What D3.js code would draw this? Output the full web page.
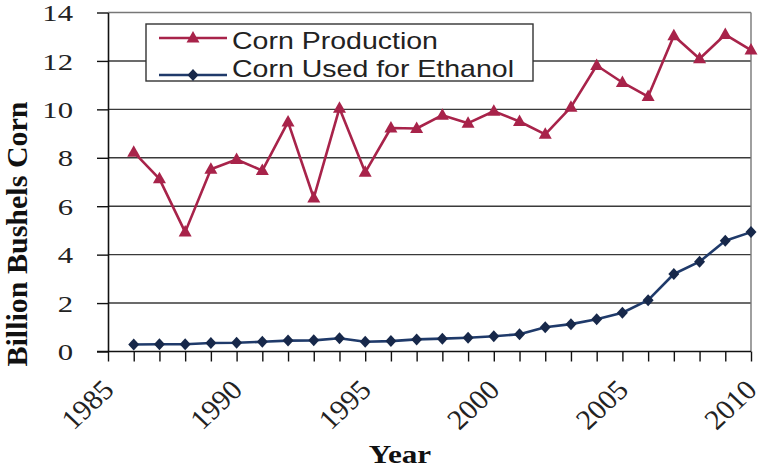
<!DOCTYPE html>
<html>
<head>
<meta charset="utf-8">
<script src="https://cdn.jsdelivr.net/npm/d3@7"></script>
<style>
  html, body { margin: 0; padding: 0; background: #fff; }
  svg { display: block; }
</style>
</head>
<body>
<svg id="chart" width="769" height="464"></svg>
<script>
// values (billion bushels)
const years = [1986,1987,1988,1989,1990,1991,1992,1993,1994,1995,1996,1997,1998,
               1999,2000,2001,2002,2003,2004,2005,2006,2007,2008,2009,2010];
const production = [8.23,7.13,4.93,7.53,7.93,7.47,9.48,6.34,10.05,7.40,9.23,9.21,9.76,
                    9.43,9.92,9.50,8.97,10.09,11.81,11.11,10.53,13.04,12.09,13.09,12.45];
const ethanol = [0.29,0.30,0.30,0.35,0.36,0.40,0.45,0.46,0.55,0.40,0.43,0.50,0.53,
                 0.57,0.63,0.71,1.00,1.13,1.33,1.60,2.12,3.20,3.71,4.57,4.93];
const yTicks = [0,2,4,6,8,10,12,14];
const xTicks = [1985,1986,1987,1988,1989,1990,1991,1992,1993,1994,1995,1996,1997,1998,
                1999,2000,2001,2002,2003,2004,2005,2006,2007,2008,2009,2010];
const xLabels = [1985,1990,1995,2000,2005,2010];
const seriesNames = ['Corn Production', 'Corn Used for Ethanol'];

const red = '#a8234a', navy = '#1f3a6a', navyDark = '#17284a';
const stretch = 1.28; // the picture is a bit wider than tall
const serif = '"Liberation Serif", "Times New Roman", serif';

const svg = d3.select('#chart');
const x = d3.scaleLinear().domain([1985, 2010]).range([108, 751]);
const y = d3.scaleLinear().domain([0, 14]).range([351.5, 12.5]);

// gridlines
svg.append('g').selectAll('line').data(yTicks.filter(d => d > 0)).join('line')
  .attr('x1', x(1985)).attr('x2', x(2010))
  .attr('y1', d => y(d)).attr('y2', d => y(d))
  .attr('stroke', d => d === 14 ? '#777' : '#3a3a3a').attr('stroke-width', 1.4);
// right border
svg.append('line').attr('x1', x(2010)).attr('x2', x(2010)).attr('y1', y(14)).attr('y2', y(0))
  .attr('stroke', '#777').attr('stroke-width', 1.4);

// y axis
const yAxis = svg.append('g').attr('transform', `translate(${x(1985)},0)`)
  .call(d3.axisLeft(y).tickValues(yTicks).tickSize(11).tickSizeOuter(0).tickPadding(0));
yAxis.attr('font-family', serif);
yAxis.select('.domain').attr('stroke', '#111').attr('stroke-width', 1.6);
yAxis.selectAll('.tick line').attr('stroke', '#111').attr('stroke-width', 1.4);
yAxis.selectAll('.tick text')
  .attr('x', 0).attr('dy', '0.34em')
  .attr('transform', `translate(-35,0) scale(${stretch},1)`)
  .style('font-family', serif).attr('font-size', 24).attr('fill', '#222');

// x axis
const xAxis = svg.append('g').attr('transform', `translate(0,${y(0)})`)
  .call(d3.axisBottom(x).tickValues(xTicks).tickSize(10).tickSizeOuter(0)
    .tickFormat(d => xLabels.includes(d) ? d : ''));
xAxis.attr('font-family', serif);
xAxis.select('.domain').attr('stroke', '#111').attr('stroke-width', 1.6)
  .attr('d', `M${x(1985) - 11},0H${x(2010)}`);
xAxis.selectAll('.tick line').attr('stroke', '#111').attr('stroke-width', 1.4);
xAxis.selectAll('.tick text')
  .attr('x', 0).attr('y', 0).attr('dy', 0)
  .attr('text-anchor', 'end')
  .attr('transform', 'translate(7,40) scale(1.06,1) rotate(-45)')
  .style('font-family', serif).attr('font-size', 28).attr('fill', '#222');

// series
const line = d3.line().x((d, i) => x(years[i])).y(d => y(d));
const triangle = 'M0,-7L6.5,4.5L-6.5,4.5Z';
const diamond = 'M0,-6L5.5,0L0,6L-5.5,0Z';

svg.append('path').datum(production).attr('d', line)
  .attr('fill', 'none').attr('stroke', red).attr('stroke-width', 2.6).attr('stroke-linejoin', 'round');
svg.append('g').selectAll('path').data(production).join('path')
  .attr('d', triangle).attr('fill', red)
  .attr('transform', (d, i) => `translate(${x(years[i])},${y(d)})`);

svg.append('path').datum(ethanol).attr('d', line)
  .attr('fill', 'none').attr('stroke', navy).attr('stroke-width', 2.6).attr('stroke-linejoin', 'round');
svg.append('g').selectAll('path').data(ethanol).join('path')
  .attr('d', diamond).attr('fill', navyDark)
  .attr('transform', (d, i) => `translate(${x(years[i])},${y(d)})`);

// legend
const lg = svg.append('g');
lg.append('rect').attr('x', 146).attr('y', 24).attr('width', 387).attr('height', 57)
  .attr('fill', '#fff').attr('stroke', '#333').attr('stroke-width', 1.4);
const rows = [{name: seriesNames[0], color: red, mark: triangle, mcolor: red, ly: 38, ty: 49},
              {name: seriesNames[1], color: navy, mark: diamond, mcolor: navyDark, ly: 75, ty: 77}];
rows.forEach(r => {
  lg.append('line').attr('x1', 159).attr('x2', 227).attr('y1', r.ly).attr('y2', r.ly)
    .attr('stroke', r.color).attr('stroke-width', 2.6);
  lg.append('path').attr('d', r.mark).attr('fill', r.mcolor).attr('transform', `translate(193,${r.ly})`);
  lg.append('text').text(r.name)
    .attr('transform', `translate(232,${r.ty}) scale(1.24,1)`)
    .attr('font-family', '"Liberation Sans", Arial, sans-serif').attr('font-size', 23).attr('fill', '#222');
});

// axis titles
svg.append('text').text('Billion Bushels Corn')
  .attr('transform', 'translate(27,234) rotate(-90)').attr('text-anchor', 'middle')
  .style('font-family', serif).attr('font-weight', 'bold')
  .attr('font-size', 30).attr('fill', '#111');
svg.append('text').text('Year')
  .attr('transform', 'translate(400,463) scale(1.2,1)').attr('text-anchor', 'middle')
  .style('font-family', serif).attr('font-weight', 'bold')
  .attr('font-size', 26).attr('fill', '#111');
</script>
</body>
</html>
